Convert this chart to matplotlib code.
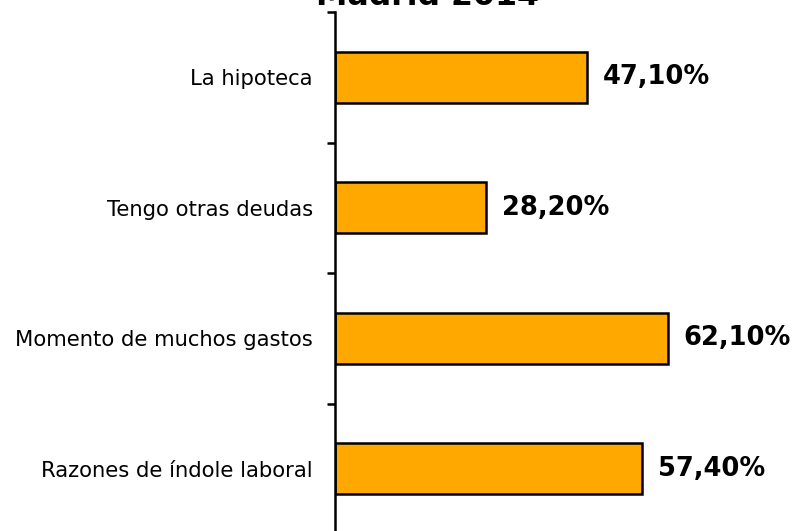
import matplotlib.pyplot as plt
import numpy as np

categories = ["La hipoteca", "Tengo otras deudas", "Momento de muchos gastos",
              "Razones de índole laboral"]
values = [47.1, 28.2, 62.1, 57.4]
value_labels = ["47,10%", "28,20%", "62,10%", "57,40%"]
title = "Madrid 2014"

W, H = 796, 531
fig = plt.figure(figsize=(W / 100, H / 100), dpi=100)
# axes: x=0 at px 335, top at px 12, bottom just past the figure edge
ax = fig.add_axes([335 / W, -3 / H, 1 - 335 / W, (531 + 3 - 12) / H])

y = np.arange(len(categories))
ax.barh(y, values, height=0.39, color="#FFA800", edgecolor="black", linewidth=1.8)

for yi, v, lab in zip(y, values, value_labels):
    ax.text(v + 3.0, yi, lab, va="center", ha="left", fontsize=18.5,
            fontweight="bold", color="black")

ax.set_xlim(0, (W - 335) / 5.355)
ax.set_ylim(len(categories) - 0.5, -0.5)

ax.set_yticks(y)
ax.set_yticklabels(categories, fontsize=15.2)
ax.tick_params(axis="y", which="major", length=0, pad=16)
ax.set_yticks(np.arange(-0.5, len(categories)), minor=True)
ax.tick_params(axis="y", which="minor", length=6, width=1.8, direction="out")

ax.set_xticks([])
for side in ["top", "right", "bottom"]:
    ax.spines[side].set_visible(False)
ax.spines["left"].set_linewidth(1.8)

fig.text(427 / W, 1 - 5 / H, title, ha="center", va="baseline",
         fontsize=22.8, fontweight="bold")

fig.savefig("out.png", dpi=100)
